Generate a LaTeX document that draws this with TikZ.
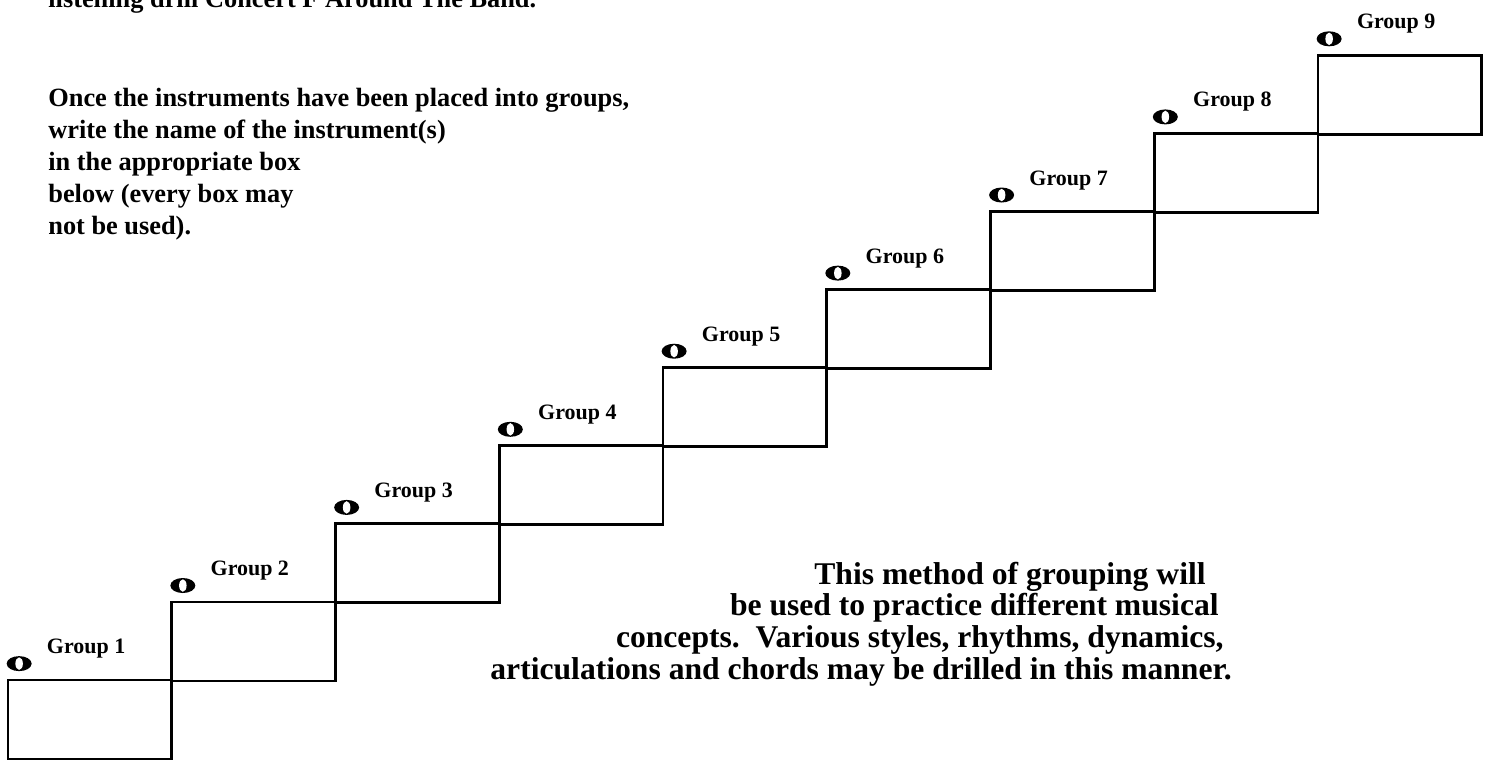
\documentclass[tikz,border=0pt]{standalone}
\usepackage{fontspec}
\setmainfont{Liberation Serif}
\usepackage{tikz}
\usetikzlibrary{shapes.geometric}

\tikzset{
  grpbox/.style={draw, line width=1.6pt, minimum width=3.275cm, minimum height=1.58cm, inner sep=0pt},
  grplabel/.style={anchor=base west, inner sep=0pt, font=\bfseries\fontsize{12.5}{15}\selectfont},
  lefttext/.style={anchor=base west, inner sep=0pt, font=\bfseries\fontsize{15}{18}\selectfont},
  righttext/.style={anchor=base east, inner sep=0pt, font=\bfseries\fontsize{18}{21}\selectfont},
  wnote/.style={ellipse, fill=black, minimum width=0.5cm, minimum height=0.3cm, inner sep=0pt,
    path picture={\fill[white, shift={(path picture bounding box.center)}, rotate=35] (0,0) ellipse (0.075cm and 0.125cm);}}
}

\begin{document}
\begin{tikzpicture}[x=0.02cm, y=-0.02cm]
\useasboundingbox (0,0) rectangle (1490,762);
% the stair of boxes
\node[grpbox] (box1) at (89.9,719.5) {};
\node[grpbox] (box2) at (253.6,641.4) {};
\node[grpbox] (box3) at (417.4,563.3) {};
\node[grpbox] (box4) at (581.1,485.2) {};
\node[grpbox] (box5) at (744.9,407.1) {};
\node[grpbox] (box6) at (908.6,329) {};
\node[grpbox] (box7) at (1072.4,250.9) {};
\node[grpbox] (box8) at (1236.1,172.8) {};
\node[grpbox] (box9) at (1399.9,94.7) {};
% whole notes
\node[wnote] (note1) at ([xshift=0.25cm,yshift=0.3cm]box1.north west) {};
\node[wnote] (note2) at ([xshift=0.25cm,yshift=0.3cm]box2.north west) {};
\node[wnote] (note3) at ([xshift=0.25cm,yshift=0.3cm]box3.north west) {};
\node[wnote] (note4) at ([xshift=0.25cm,yshift=0.3cm]box4.north west) {};
\node[wnote] (note5) at ([xshift=0.25cm,yshift=0.3cm]box5.north west) {};
\node[wnote] (note6) at ([xshift=0.25cm,yshift=0.3cm]box6.north west) {};
\node[wnote] (note7) at ([xshift=0.25cm,yshift=0.3cm]box7.north west) {};
\node[wnote] (note8) at ([xshift=0.25cm,yshift=0.3cm]box8.north west) {};
\node[wnote] (note9) at ([xshift=0.25cm,yshift=0.3cm]box9.north west) {};
% labels
\node[grplabel] (lab1) at ([xshift=0.8cm,yshift=0.5cm]box1.north west) {Group 1};
\node[grplabel] (lab2) at ([xshift=0.8cm,yshift=0.5cm]box2.north west) {Group 2};
\node[grplabel] (lab3) at ([xshift=0.8cm,yshift=0.5cm]box3.north west) {Group 3};
\node[grplabel] (lab4) at ([xshift=0.8cm,yshift=0.5cm]box4.north west) {Group 4};
\node[grplabel] (lab5) at ([xshift=0.8cm,yshift=0.5cm]box5.north west) {Group 5};
\node[grplabel] (lab6) at ([xshift=0.8cm,yshift=0.5cm]box6.north west) {Group 6};
\node[grplabel] (lab7) at ([xshift=0.8cm,yshift=0.5cm]box7.north west) {Group 7};
\node[grplabel] (lab8) at ([xshift=0.8cm,yshift=0.5cm]box8.north west) {Group 8};
\node[grplabel] (lab9) at ([xshift=0.8cm,yshift=0.5cm]box9.north west) {Group 9};
% texts
\node[lefttext] (title) at (48,7) {listening drill Concert F Around The Band.};
\node[lefttext] (left1) at (48,106) {Once the instruments have been placed into groups,};
\node[lefttext] (left2) at (48,138) {write the name of the instrument(s)};
\node[lefttext] (left3) at (48,170) {in the appropriate box};
\node[lefttext] (left4) at (48,202) {below (every box may};
\node[lefttext] (left5) at (48,234) {not be used).};
\node[righttext] (right1) at (1206,584) {This method of grouping will};
\node[righttext] (right2) at (1219,615) {be used to practice different musical};
\node[righttext] (right3) at (1224,647) {concepts.\ \ Various styles, rhythms, dynamics,};
\node[righttext] (right4) at (1232,679) {articulations and chords may be drilled in this manner.};
\end{tikzpicture}
\end{document}
